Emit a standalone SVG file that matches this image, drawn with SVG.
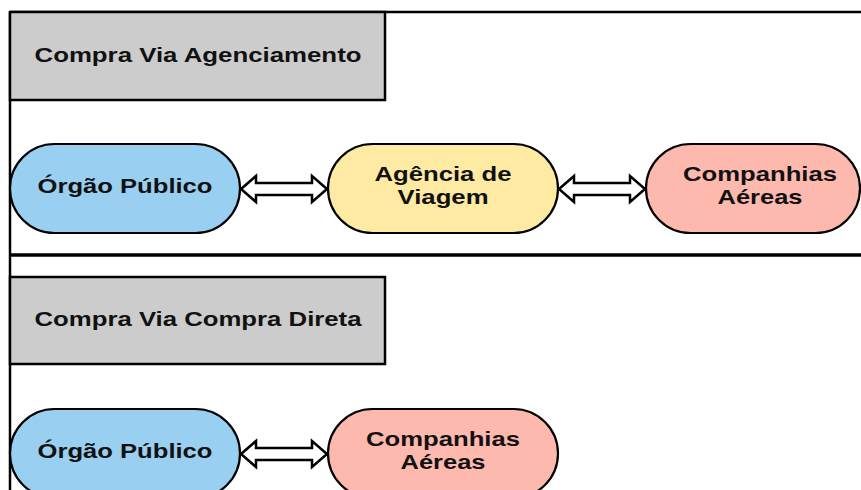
<svg xmlns="http://www.w3.org/2000/svg" width="861" height="490" viewBox="0 0 861 490">
<style>
.frame{fill:none;stroke:#000;stroke-width:2.5}
.hdr{fill:#cccccc;stroke:#000;stroke-width:2.5}
.node{stroke:#000;stroke-width:2.2}
.blue{fill:#99cff0}
.yellow{fill:#feeaa2}
.pink{fill:#feb9ae}
.t{font-family:"Liberation Sans",Arial,sans-serif;font-weight:bold;font-size:21px;fill:#111;text-anchor:middle}
.arrow{fill:#fff;stroke:#000;stroke-width:2.5;stroke-linejoin:miter}
</style>
<rect width="861" height="490" fill="#fff"/>
<g id="frame">
<line class="frame" x1="10" y1="12" x2="10" y2="490"/>
<line class="frame" x1="10" y1="12" x2="861" y2="12"/>
<line x1="10" y1="255" x2="861" y2="255" stroke="#000" stroke-width="3.5"/>
</g>
<g id="header1">
<rect class="hdr" x="10" y="12" width="375" height="88"/>
<text class="t" x="198" y="62" textLength="327" lengthAdjust="spacingAndGlyphs">Compra Via Agenciamento</text>
</g>
<g id="header2">
<rect class="hdr" x="10" y="277" width="375" height="87"/>
<text class="t" x="198" y="326" textLength="327" lengthAdjust="spacingAndGlyphs">Compra Via Compra Direta</text>
</g>
<g id="connectors">
<polygon class="arrow" points="241,189 256,176 256,183 312,183 312,176 327,189 312,202 312,195 256,195 256,202"/>
<polygon class="arrow" points="559,189 574,176 574,183 630,183 630,176 645,189 630,202 630,195 574,195 574,202"/>
<polygon class="arrow" points="241,454 256,441 256,448 312,448 312,441 327,454 312,467 312,460 256,460 256,467"/>
</g>
<g id="orgao1">
<rect class="node blue" x="10" y="144" width="230" height="89" rx="44.5"/>
<text class="t" x="125" y="193" textLength="175" lengthAdjust="spacingAndGlyphs">Órgão Público</text>
</g>
<g id="agencia">
<rect class="node yellow" x="328" y="144" width="230" height="89" rx="44.5"/>
<text class="t" x="443" y="181" textLength="137" lengthAdjust="spacingAndGlyphs">Agência de</text>
<text class="t" x="443" y="204" textLength="91" lengthAdjust="spacingAndGlyphs">Viagem</text>
</g>
<g id="companhias1">
<rect class="node pink" x="646" y="144" width="214" height="89" rx="44.5"/>
<text class="t" x="760" y="181" textLength="154" lengthAdjust="spacingAndGlyphs">Companhias</text>
<text class="t" x="760" y="204" textLength="85" lengthAdjust="spacingAndGlyphs">Aéreas</text>
</g>
<g id="orgao2">
<rect class="node blue" x="10" y="409" width="230" height="89" rx="44.5"/>
<text class="t" x="125" y="458" textLength="175" lengthAdjust="spacingAndGlyphs">Órgão Público</text>
</g>
<g id="companhias2">
<rect class="node pink" x="328" y="409" width="230" height="89" rx="44.5"/>
<text class="t" x="443" y="446" textLength="154" lengthAdjust="spacingAndGlyphs">Companhias</text>
<text class="t" x="443" y="469" textLength="85" lengthAdjust="spacingAndGlyphs">Aéreas</text>
</g>
</svg>
